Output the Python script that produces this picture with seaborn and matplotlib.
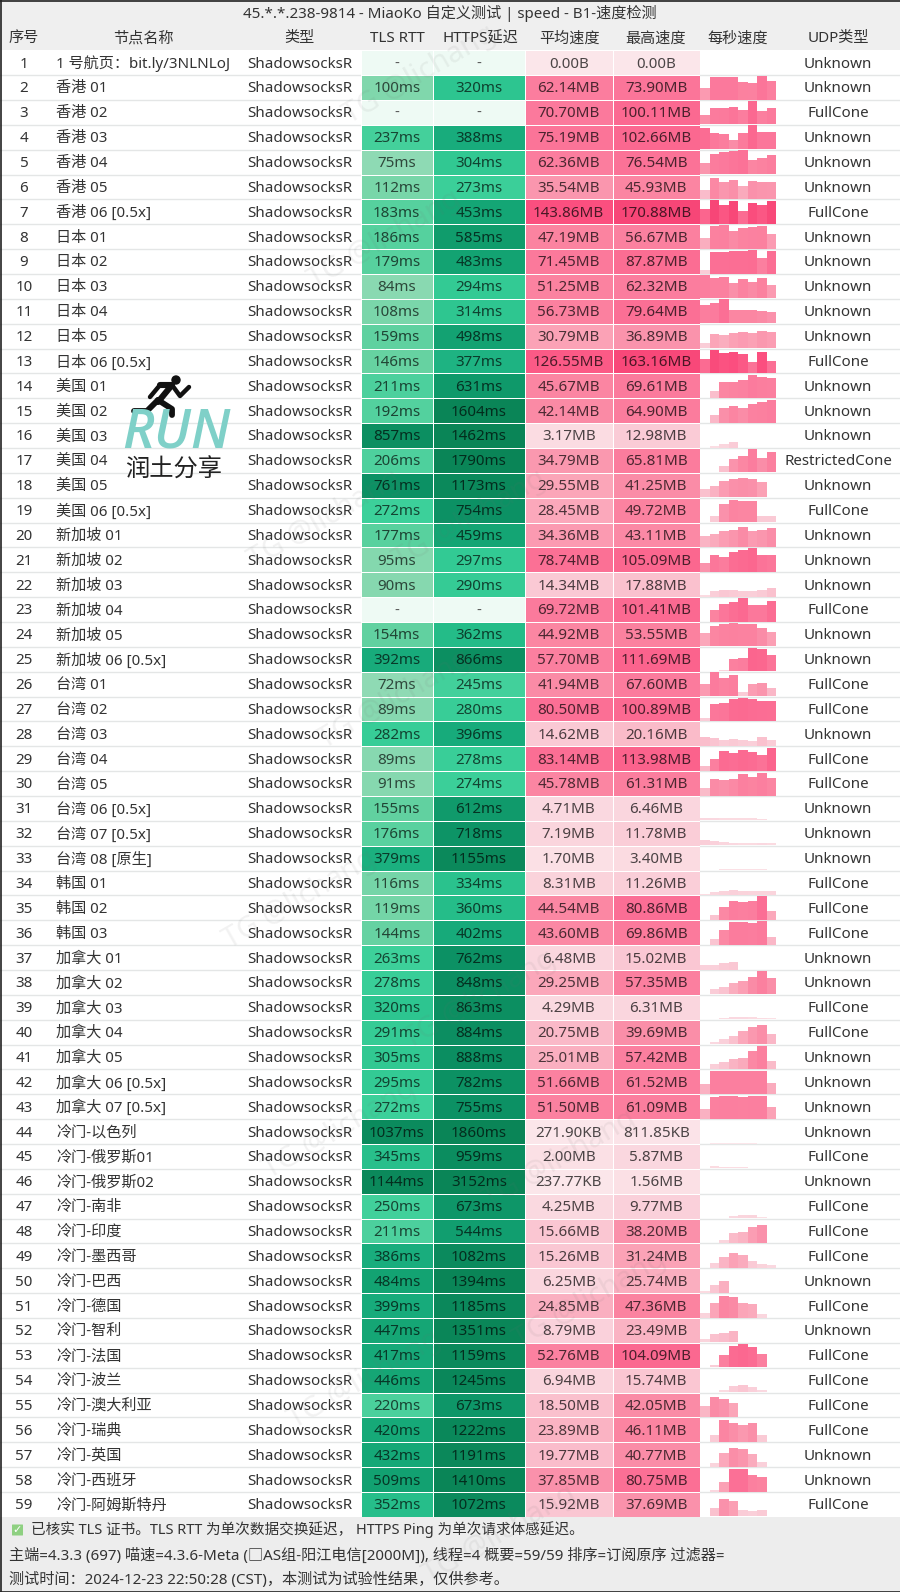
import numpy as np
import matplotlib
matplotlib.use("Agg")
import matplotlib.pyplot as plt
from matplotlib.colors import LinearSegmentedColormap, LogNorm, Normalize
from matplotlib.patches import Rectangle, Circle, FancyBboxPatch
import seaborn as sns

sns.set_theme(style="white")
FONT = ['Noto Sans', 'Noto Sans CJK SC', 'DejaVu Sans']
plt.rcParams['font.family'] = FONT

title = "45.*.*.238-9814 - MiaoKo 自定义测试 | speed - B1-速度检测"
headers = ["序号", "节点名称", "类型", "TLS RTT", "HTTPS延迟", "平均速度", "最高速度", "每秒速度", "UDP类型"]
footer = ["已核实 TLS 证书。TLS RTT 为单次数据交换延迟， HTTPS Ping 为单次请求体感延迟。",
          "主端=4.3.3 (697) 喵速=4.3.6-Meta (□AS组-阳江电信[2000M]), 线程=4 概要=59/59 排序=订阅原序 过滤器=",
          "测试时间：2024-12-23 22:50:28 (CST)，本测试为试验性结果，仅供参考。"]

nodes = ["1 号航页：bit.ly/3NLNLoJ", "香港 01", "香港 02", "香港 03", "香港 04", "香港 05", "香港 06 [0.5x]",
         "日本 01", "日本 02", "日本 03", "日本 04", "日本 05", "日本 06 [0.5x]",
         "美国 01", "美国 02", "美国 03", "美国 04", "美国 05", "美国 06 [0.5x]",
         "新加坡 01", "新加坡 02", "新加坡 03", "新加坡 04", "新加坡 05", "新加坡 06 [0.5x]",
         "台湾 01", "台湾 02", "台湾 03", "台湾 04", "台湾 05", "台湾 06 [0.5x]", "台湾 07 [0.5x]", "台湾 08 [原生]",
         "韩国 01", "韩国 02", "韩国 03",
         "加拿大 01", "加拿大 02", "加拿大 03", "加拿大 04", "加拿大 05", "加拿大 06 [0.5x]", "加拿大 07 [0.5x]",
         "冷门-以色列", "冷门-俄罗斯01", "冷门-俄罗斯02", "冷门-南非", "冷门-印度", "冷门-墨西哥", "冷门-巴西", "冷门-德国",
         "冷门-智利", "冷门-法国", "冷门-波兰", "冷门-澳大利亚", "冷门-瑞典", "冷门-英国", "冷门-西班牙", "冷门-阿姆斯特丹"]

tls_ms = [0, 100, 0, 237, 75, 112, 183, 186, 179, 84, 108, 159, 146, 211, 192, 857, 206, 761, 272,
          177, 95, 90, 0, 154, 392, 72, 89, 282, 89, 91, 155, 176, 379, 116, 119, 144,
          263, 278, 320, 291, 305, 295, 272, 1037, 345, 1144, 250, 211, 386, 484, 399,
          447, 417, 446, 220, 420, 432, 509, 352]
https_ms = [0, 320, 0, 388, 304, 273, 453, 585, 483, 294, 314, 498, 377, 631, 1604, 1462, 1790, 1173, 754,
            459, 297, 290, 0, 362, 866, 245, 280, 396, 278, 274, 612, 718, 1155, 334, 360, 402,
            762, 848, 863, 884, 888, 782, 755, 1860, 959, 3152, 673, 544, 1082, 1394, 1185,
            1351, 1159, 1245, 673, 1222, 1191, 1410, 1072]
avg_label = ["0.00B", "62.14MB", "70.70MB", "75.19MB", "62.36MB", "35.54MB", "143.86MB", "47.19MB", "71.45MB", "51.25MB",
             "56.73MB", "30.79MB", "126.55MB", "45.67MB", "42.14MB", "3.17MB", "34.79MB", "29.55MB", "28.45MB",
             "34.36MB", "78.74MB", "14.34MB", "69.72MB", "44.92MB", "57.70MB", "41.94MB", "80.50MB", "14.62MB", "83.14MB",
             "45.78MB", "4.71MB", "7.19MB", "1.70MB", "8.31MB", "44.54MB", "43.60MB", "6.48MB", "29.25MB", "4.29MB",
             "20.75MB", "25.01MB", "51.66MB", "51.50MB", "271.90KB", "2.00MB", "237.77KB", "4.25MB", "15.66MB", "15.26MB",
             "6.25MB", "24.85MB", "8.79MB", "52.76MB", "6.94MB", "18.50MB", "23.89MB", "19.77MB", "37.85MB", "15.92MB"]
max_label = ["0.00B", "73.90MB", "100.11MB", "102.66MB", "76.54MB", "45.93MB", "170.88MB", "56.67MB", "87.87MB", "62.32MB",
             "79.64MB", "36.89MB", "163.16MB", "69.61MB", "64.90MB", "12.98MB", "65.81MB", "41.25MB", "49.72MB",
             "43.11MB", "105.09MB", "17.88MB", "101.41MB", "53.55MB", "111.69MB", "67.60MB", "100.89MB", "20.16MB", "113.98MB",
             "61.31MB", "6.46MB", "11.78MB", "3.40MB", "11.26MB", "80.86MB", "69.86MB", "15.02MB", "57.35MB", "6.31MB",
             "39.69MB", "57.42MB", "61.52MB", "61.09MB", "811.85KB", "5.87MB", "1.56MB", "9.77MB", "38.20MB", "31.24MB",
             "25.74MB", "47.36MB", "23.49MB", "104.09MB", "15.74MB", "42.05MB", "46.11MB", "40.77MB", "80.75MB", "37.69MB"]
udp_type = ["Unknown", "Unknown", "FullCone", "Unknown", "Unknown", "Unknown", "FullCone", "Unknown", "Unknown", "Unknown",
            "Unknown", "Unknown", "FullCone", "Unknown", "Unknown", "Unknown", "RestrictedCone", "Unknown", "FullCone",
            "Unknown", "Unknown", "Unknown", "FullCone", "Unknown", "Unknown", "FullCone", "FullCone", "Unknown", "FullCone",
            "FullCone", "Unknown", "Unknown", "Unknown", "FullCone", "FullCone", "FullCone", "Unknown", "Unknown", "FullCone",
            "FullCone", "Unknown", "Unknown", "Unknown", "Unknown", "FullCone", "Unknown", "FullCone", "FullCone", "FullCone",
            "Unknown", "FullCone", "Unknown", "FullCone", "FullCone", "FullCone", "FullCone", "Unknown", "Unknown", "FullCone"]

# height of every per-second bar, as a share of the cell height
second_share = [
 [0,0,0,0,0,0,0,0],
 [.47,.95,.95,.95,.73,.70,1,.77], [.40,.67,.70,.74,.62,1,.58,.69], [.87,.70,.62,.40,.67,1,.71,.71],
 [.47,.84,.92,.97,1,.60,.66,.80], [.39,.88,.72,.78,.55,.75,.73,.71], [.64,1,.78,.97,.55,.88,.77,.95],
 [.45,.95,1,.75,.85,.91,.95,.60], [.13,.90,.91,.94,.95,1,.65,.94], [.97,.87,.90,.63,.82,.68,.85,.55],
 [.77,.84,1,.57,.57,.57,.53,.47], [.23,.60,.53,.64,.67,.63,.70,.66], [.58,.96,.85,.89,.78,.47,.88,.49],
 [0,.27,.65,.68,.74,.97,.88,.85], [0,.33,.60,.71,.63,.80,.87,.97], [0,.05,.14,.25,0,0,0,0],
 [0,0,.28,.56,.67,.97,.61,.84], [.36,.49,.67,.77,.80,.77,.64,0], [0,.27,.76,.93,.90,.90,.27,.27],
 [.46,.55,.66,.73,.84,.67,.72,.81], [.35,.69,.62,.82,.93,1,.72,.69], [.07,.22,.30,.27,.24,.22,.27,.35],
 [0,.48,.72,.81,.99,.71,.71,.86], [.54,.84,.95,1,.95,.95,.77,.60], [0,0,.07,.50,.56,.98,.94,.67],
 [.51,1,.77,.89,.19,.49,.54,.32], [.12,.72,.74,.92,.97,.90,.85,.82], [.38,.33,.25,.29,.23,.21,.35,.23],
 [.18,.51,.82,.75,.85,.78,.67,.97], [.33,.68,.64,.70,.91,.78,.95,.75], [.12,.10,.08,.08,.08,.08,.07,.03],
 [.22,.18,.13,.10,.08,.08,.10,.08], [.02,.02,.03,.03,.03,.03,.03,.02], [.05,.13,.17,.20,.17,.15,.15,.15],
 [0,.21,.54,.79,.73,.78,1,.35], [0,.23,.63,.95,.93,.91,1,.31], [.18,.20,.27,.30,0,0,0,0],
 [0,.22,.30,.46,.57,.73,.97,.69], [0,.03,.06,.10,.10,.08,.06,.04], [0,.10,.20,.35,.57,.70,.80,.43],
 [0,.19,.28,.41,.48,.76,.97,.35], [.40,.96,.96,.96,.96,.96,.95,.44], [.40,.91,.95,.97,.91,.96,.97,.51],
 [0,.01,.01,.01,.01,.01,0,0], [.02,.08,.07,.05,.05,0,0,0], [.01,.01,.01,.01,.01,.01,.01,0],
 [0,0,0,.10,.14,.15,.03,0], [0,0,.14,.41,.48,.66,.75,0], [0,.20,.46,.62,.54,.28,.17,.10],
 [.07,.31,.50,0,0,0,0,0], [.17,.60,.92,.85,.60,.56,.13,0], [.16,.36,.39,.46,0,0,0,0],
 [0,.11,.52,.90,.99,.85,.55,0], [0,0,.08,.25,.31,.20,.10,0], [.45,.83,.75,.60,0,0,0,0],
 [0,.27,.91,.80,.70,.78,.27,0], [0,.16,.57,.80,.73,.54,.19,0], [0,.07,.39,.96,.96,.68,.60,0],
 [0,.36,.75,.65,.25,.21,.28,0],
]

W, H = 900, 1592
TOP, BOTTOM = 50.3, 1516.9
n = len(nodes)
ROW = (BOTTOM - TOP) / n
FS = 10.9
TEXT_DROP = 1.4  # pixels the row text sits below the geometric centre of its cell
fig = plt.figure(figsize=(W / 100, H / 100), dpi=100, facecolor="white")


def box(x0, x1, y0, y1):
    return [x0 / W, 1 - y1 / H, (x1 - x0) / W, (y1 - y0) / H]


def to_mb(s):
    if s.endswith("KB"):
        return float(s[:-2]) / 1024
    if s.endswith("MB"):
        return float(s[:-2])
    return float(s[:-1]) / 1048576


lat_cmap = LinearSegmentedColormap.from_list("lat", [
    (0.00, "#90dab5"), (0.10, "#84d8ae"), (0.26, "#62d1a0"), (0.45, "#3cd09a"), (0.48, "#33ca94"),
    (0.55, "#24bc88"), (0.57, "#18ac7c"), (0.63, "#14a574"), (0.80, "#0c9164"), (1.00, "#0a8557")])
lat_cmap.set_bad("#eefaf4")
lat_norm = LogNorm(70, 1400)

SPD_MAX = 171.0
spd_stops = [(0, "#fbe6ea"), (2, "#fbdde3"), (6, "#fad6de"), (15, "#fac7d3"), (25, "#faafc0"), (31, "#fba2b6"),
             (38, "#fa90aa"), (47, "#fb83a0"), (58, "#fb7f9f"), (70, "#fb7a9c"), (79, "#fb6f95"), (104, "#fb6890"),
             (144, "#fb4f7f"), (171, "#f74677")]
spd_cmap = LinearSegmentedColormap.from_list("spd", [(v / SPD_MAX, c) for v, c in spd_stops])
spd_norm = Normalize(0, SPD_MAX)


def ink(rgb, f=0.33):
    return tuple(c * f for c in rgb[:3])


# grey row rules behind everything
bg = fig.add_axes([0, 0, 1, 1], zorder=0)
bg.set_xlim(0, W); bg.set_ylim(H, 0); bg.axis("off")
bg.add_patch(Rectangle((0, 0), W, TOP, fc="#efefef", ec="none"))
bg.add_patch(Rectangle((0, BOTTOM), W, H - BOTTOM, fc="#ededed", ec="none"))
for i in range(1, n):
    bg.axhline(TOP + i * ROW, color="#e4e6e6", lw=1.0)

# latency columns
for col, (vals, x0, x1) in enumerate([(tls_ms, 360.5, 433), (https_ms, 433, 525)]):
    ax = fig.add_axes(box(x0, x1, TOP, BOTTOM), zorder=2)
    arr = np.array(vals, float)
    arr[arr == 0] = np.nan
    labels = np.array([[f"{v}ms" if v else "-"] for v in vals])
    sns.heatmap(arr[:, None], ax=ax, cmap=lat_cmap, norm=lat_norm, cbar=False, annot=labels, fmt="",
                linewidths=0.7, linecolor="#ffffff", xticklabels=False, yticklabels=False,
                annot_kws={"fontsize": FS, "family": FONT})
    shown = [v for v in vals if v]
    for t, v in zip(ax.texts, shown):
        t.set_color(ink(lat_cmap(lat_norm(v))))
        t.set_y(t.get_position()[1] + TEXT_DROP / ROW)
    for i, v in enumerate(vals):
        if not v:
            ax.text(0.5, i + 0.5 + TEXT_DROP / ROW, "-", ha="center", va="center", fontsize=FS, color="#555555")

# speed columns
for col, (labs, x0, x1) in enumerate([(avg_label, 525, 612.5), (max_label, 612.5, 700)]):
    ax = fig.add_axes(box(x0, x1, TOP, BOTTOM), zorder=2)
    mb = np.array([to_mb(s) for s in labs])
    sns.heatmap(mb[:, None], ax=ax, cmap=spd_cmap, norm=spd_norm, cbar=False,
                annot=np.array(labs)[:, None], fmt="", linewidths=0.7, linecolor="#ffffff",
                xticklabels=False, yticklabels=False, annot_kws={"fontsize": FS, "family": FONT})
    for t, v in zip(ax.texts, mb):
        t.set_color(ink(spd_cmap(spd_norm(v)), 0.3))
        t.set_y(t.get_position()[1] + TEXT_DROP / ROW)

# per-second bars, one small axes per row
seconds = np.arange(8)
for i, share in enumerate(second_share):
    if not any(share):
        continue
    ax = fig.add_axes(box(700, 776, TOP + i * ROW + 0.5, TOP + (i + 1) * ROW - 0.5), zorder=2)
    peak = max(to_mb(max_label[i]), 50.0)
    cols = [spd_cmap(spd_norm(s * peak)) for s in share]
    sns.barplot(x=seconds, y=share, hue=seconds, palette=cols, legend=False, width=1.0, gap=0, ax=ax,
                linewidth=0, saturation=1)
    ax.set_xlim(-0.5, 7.5); ax.set_ylim(0, 1); ax.axis("off"); ax.patch.set_alpha(0)

# text layer
fg = fig.add_axes([0, 0, 1, 1], zorder=5)
fg.set_xlim(0, W); fg.set_ylim(H, 0); fg.axis("off"); fg.patch.set_alpha(0)
TXT = "#333333"
fg.text(450, 13.5, title, ha="center", va="center", fontsize=FS, color=TXT)
hx = [24, 143.5, 299, 397, 480, 569, 656, 738, 838]
for x, h in zip(hx, headers):
    fg.text(x, 38.8, h, ha="center", va="center", fontsize=FS, color=TXT)
for i in range(n):
    y = TOP + (i + 0.5) * ROW + TEXT_DROP
    fg.text(24, y, str(i + 1), ha="center", va="center", fontsize=FS, color=TXT)
    fg.text(56, y, nodes[i], ha="left", va="center", fontsize=FS, color=TXT)
    fg.text(247, y, "ShadowsocksR", ha="left", va="center", fontsize=FS, color=TXT)
    fg.text(838, y, udp_type[i], ha="center", va="center", fontsize=FS, color=TXT)

# footer
fg.add_patch(FancyBboxPatch((12.5, 1525), 10, 10, boxstyle="round,pad=0.5", fc="#8ed081", ec="none"))
fg.text(17.5, 1530, "✓", ha="center", va="center", fontsize=8, color="white", family="DejaVu Sans", weight="bold")
fg.text(31, 1529.5, footer[0], ha="left", va="center", fontsize=10.5, color=TXT)
fg.text(9, 1555.5, footer[1], ha="left", va="center", fontsize=FS, color=TXT)
fg.text(9, 1580, footer[2], ha="left", va="center", fontsize=FS, color=TXT)

# logo
LOGO = "#7fd0c8"
fg.text(176, 433, "RUN", ha="center", va="center", fontsize=39, style="italic", weight=600, color=LOGO, family="Open Sans")
fg.text(174, 471, "润土分享", ha="center", va="center", fontsize=17.5, color="#222222")
fg.add_patch(Circle((176, 380), 4.7, fc="#111111", ec="none"))
for pts, lw in [([(160, 385), (172, 385), (158, 402)], 4.4), ([(172, 385), (180, 396), (189, 387)], 3.2),
                ([(160, 385), (150, 397)], 3.2), ([(158, 400), (172, 409), (172, 415)], 4.2),
                ([(158, 400), (147, 411), (134, 411)], 4.2)]:
    fg.plot(*zip(*pts), color="#111111", lw=lw, solid_capstyle="round", solid_joinstyle="round")

# edges of the screenshot
fg.plot([0.5, 0.5], [0, H], color="#222222", lw=1.2)
fg.plot([0, W], [0.5, 0.5], color="#222222", lw=1.2)
fg.plot([0, W], [H - 0.5, H - 0.5], color="#222222", lw=1.2)

# watermark
for x, y in [(420, 75), (385, 240), (325, 520), (470, 520), (395, 700), (300, 900), (480, 1000),
             (340, 1130), (560, 1160), (365, 1380), (590, 1300), (500, 1535)]:
    fg.text(x, y, "TG @lichang", ha="center", va="center", rotation=30, fontsize=21, color="#707070", alpha=0.09)

fig.savefig("out.png", dpi=100, facecolor="white")
